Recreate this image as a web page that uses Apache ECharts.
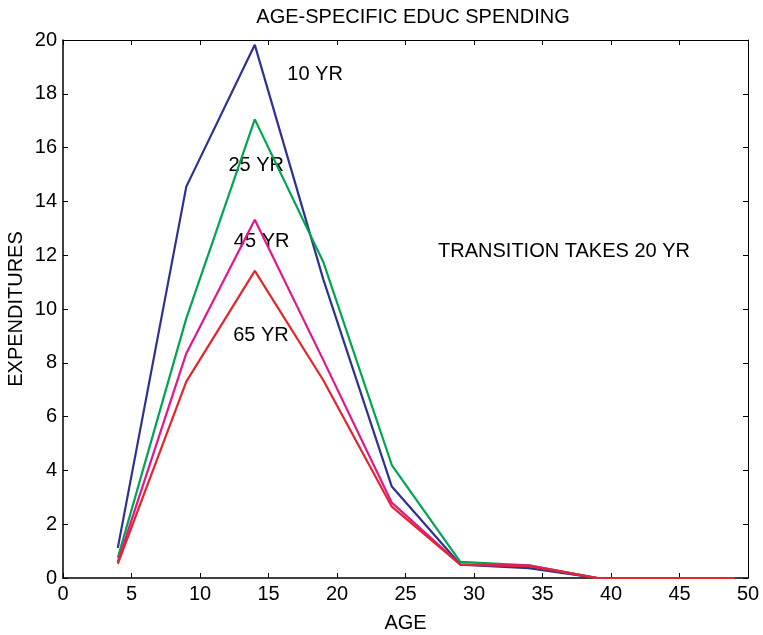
<!DOCTYPE html>
<html>
<head>
<meta charset="utf-8">
<script src="https://cdn.jsdelivr.net/npm/echarts@6/dist/echarts.min.js"></script>
<style>
  html, body { margin: 0; padding: 0; background: #fff; }
  #chart { width: 763px; height: 635px; }
</style>
</head>
<body>
<div id="chart"></div>
<script>
// Age groups (5-year bins, midpoints)
const ages = [4, 9, 14, 19, 24, 29, 34, 39, 44, 49];

// Education spending by age, at different years into the transition
const yr10 = [1.12, 14.55, 19.82, 11.1, 3.4, 0.5, 0.37, 0, 0, 0];
const yr25 = [0.75, 9.65, 17.05, 11.75, 4.2, 0.6, 0.47, 0, 0, 0];
const yr45 = [0.6, 8.35, 13.32, 8.1, 2.8, 0.5, 0.47, 0, 0, 0];
const yr65 = [0.53, 7.3, 11.42, 7.35, 2.65, 0.5, 0.44, 0, 0, 0];

const xTicks = [0, 5, 10, 15, 20, 25, 30, 35, 40, 45, 50];
const yTicks = [0, 2, 4, 6, 8, 10, 12, 14, 16, 18, 20];

const FONT = '"Liberation Sans", Arial, Helvetica, sans-serif';
const FS = 20;

function pairs(ys) { return ages.map((a, i) => [a, ys[i]]); }

const seriesDefs = [
  { name: '10 YR', data: yr10, color: '#2e3192' },
  { name: '25 YR', data: yr25, color: '#00a551' },
  { name: '45 YR', data: yr45, color: '#e2168e' },
  { name: '65 YR', data: yr65, color: '#e1262c' }
];

const chart = echarts.init(document.getElementById('chart'), null, { renderer: 'canvas' });

const axisBase = {
  type: 'value',
  axisLine: { show: true, onZero: false, lineStyle: { color: '#000', width: 1.5 } },
  axisTick: { show: true, inside: true, length: 5, lineStyle: { color: '#000', width: 1 } },
  splitLine: { show: false }
};

chart.setOption({
  animation: false,
  backgroundColor: '#fff',
  title: {
    text: 'AGE-SPECIFIC EDUC SPENDING',
    left: 408, top: 2, textAlign: 'center',
    textStyle: { fontFamily: FONT, fontSize: FS, fontWeight: 'normal', color: '#000' }
  },
  grid: { left: 63, right: 15, top: 40, bottom: 57, containLabel: false, outerBoundsMode: 'none' },
  xAxis: [
    Object.assign({}, axisBase, {
      min: xTicks[0], max: xTicks[xTicks.length - 1], interval: 5,
      position: 'bottom',
      name: 'AGE', nameLocation: 'middle', nameGap: 35, nameMoveOverlap: false,
      nameTextStyle: { fontFamily: FONT, fontSize: FS, color: '#000' },
      axisLabel: { fontFamily: FONT, fontSize: FS, color: '#000', margin: 6 }
    }),
    Object.assign({}, axisBase, {
      min: xTicks[0], max: xTicks[xTicks.length - 1], interval: 5,
      position: 'top',
      axisLine: { show: true, onZero: false, lineStyle: { color: '#000', width: 1 } },
      axisLabel: { show: false }
    })
  ],
  yAxis: [
    Object.assign({}, axisBase, {
      min: yTicks[0], max: yTicks[yTicks.length - 1], interval: 2,
      position: 'left',
      name: 'EXPENDITURES', nameLocation: 'middle', nameGap: 37, nameMoveOverlap: false,
      nameTextStyle: { fontFamily: FONT, fontSize: FS, color: '#000' },
      axisLabel: { fontFamily: FONT, fontSize: FS, color: '#000', margin: 6 }
    }),
    Object.assign({}, axisBase, {
      min: yTicks[0], max: yTicks[yTicks.length - 1], interval: 2,
      position: 'right',
      axisLine: { show: true, onZero: false, lineStyle: { color: '#000', width: 1 } },
      axisLabel: { show: false }
    })
  ],
  series: seriesDefs.map(s => ({
    name: s.name,
    type: 'line',
    data: pairs(s.data),
    xAxisIndex: 0,
    yAxisIndex: 0,
    showSymbol: false,
    lineStyle: { color: s.color, width: 2.2 },
    itemStyle: { color: s.color }
  }))
});

// Text annotations placed in data coordinates
const notes = [
  { text: '10 YR', at: [18.4, 18.7] },
  { text: '25 YR', at: [14.1, 15.35] },
  { text: '45 YR', at: [14.5, 12.5] },
  { text: '65 YR', at: [14.45, 9.0] },
  { text: 'TRANSITION TAKES 20 YR', at: [36.57, 12.12] }
];

chart.setOption({
  graphic: notes.map(n => {
    const p = chart.convertToPixel({ gridIndex: 0 }, n.at);
    return {
      type: 'text', x: p[0], y: p[1],
      style: {
        text: n.text, fill: '#000', font: FS + 'px ' + FONT,
        textAlign: 'center', textVerticalAlign: 'middle'
      }
    };
  })
});
</script>
</body>
</html>
